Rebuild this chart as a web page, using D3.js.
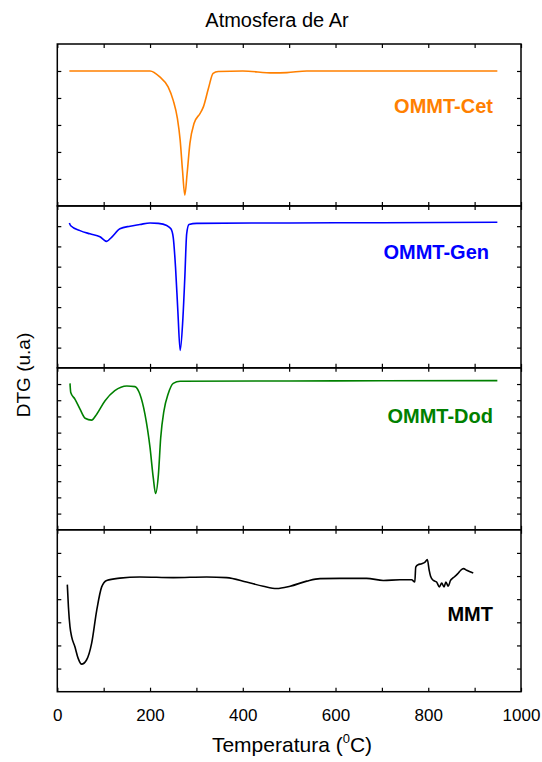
<!DOCTYPE html>
<html><head><meta charset="utf-8">
<script src="https://cdn.jsdelivr.net/npm/d3@7"></script>
<style>body{margin:0;background:#fff}svg{display:block}text{font-family:"Liberation Sans",Arial,sans-serif}</style>
</head><body>
<svg id="c" width="542" height="762"></svg>
<script>
// ---- data (temperature in °C, DTG in arbitrary units) ----
const seriesNames = ["OMMT-Cet", "OMMT-Gen", "OMMT-Dod", "MMT"];
const seriesColors = ["#ff8000", "#0000ff", "#008000", "#000000"];
const xTicks = [0,100,200,300,400,500,600,700,800,900,1000];
const xTickLabels = [0,200,400,600,800,1000];

const cetT = [26,200,221,239,250,259,265,270,275,280,286,295,308,315,326,336,347,400,465,495,538,700,949];
const cetV = [0,0,-0.22,-0.59,-1.09,-1.76,-2.57,-3.68,-4.6,-3.79,-2.68,-1.94,-1.57,-1.33,-0.64,-0.09,-0.02,0,-0.07,-0.06,0,0,0];

const genT = [26,29,49,70.5,92,106.5,117,135,157,178,200,218,236,245,250,255,260,265,270.5,275,279,284,300.6,500,700,949];
const genV = [0.16,0.02,-0.22,-0.38,-0.52,-0.75,-0.55,-0.13,0,0.08,0.16,0.14,0.03,-0.13,-0.55,-2.04,-4.2,-6.14,-4.7,-2.54,-0.38,0.08,0.14,0.16,0.17,0.19];

const dodT = [27.4,29,38,49,60,74,85,103,124,150,167.5,178,189,200,207,212,218,223,230,239,250,265,500,700,949];
const dodV = [0.04,-0.52,-0.93,-1.55,-2.11,-2.23,-1.86,-1.03,-0.41,-0.12,-0.16,-0.62,-1.86,-3.93,-5.8,-6.76,-5.6,-3.32,-1.65,-0.62,0.04,0.17,0.19,0.2,0.21];

const mmtT = [21.6,24,27.4,31,38,45,52.5,63,74,85,95.7,106.5,135,178,250,322,365,408,444,473,502,538,566.5,609.6,667,703,739,764,771,773,778,786,793,798,802,805,811,818,824,829,834,838,843,848,854,860,865,870,876,883,897];
const mmtV = [-1.37,-2.34,-3.2,-3.63,-4.06,-4.56,-4.81,-4.63,-3.91,-2.48,-1.47,-1.19,-1.09,-1.04,-1.07,-1.04,-1.07,-1.26,-1.44,-1.54,-1.44,-1.22,-1.11,-1.1,-1.1,-1.19,-1.16,-1.16,-1.26,-0.61,-0.51,-0.47,-0.4,-0.29,-0.75,-1.01,-1.19,-1.26,-1.47,-1.3,-1.47,-1.26,-1.44,-1.19,-1.07,-0.97,-0.87,-0.75,-0.68,-0.75,-0.87];

const panelDomains = [[-5,1],[-7,1],[-9,1],[-6,1]];
const seriesT = [cetT, genT, dodT, mmtT];
const seriesV = [cetV, genV, dodV, mmtV];

// ---- layout ----
const svg = d3.select("#c");
const pLeft = 57.3, pRight = 521, pTop0 = 44, pBottom = 691.7;
const panelH = (pBottom - pTop0) / 4;
const x = d3.scaleLinear().domain([0,1000]).range([pLeft, pRight]);
const tickLen = 4;

svg.append("text").attr("x", 277).attr("y", 26.5).attr("text-anchor","middle")
  .attr("font-size", 20).text("Atmosfera de Ar");

seriesNames.forEach((name, i) => {
  const pTop = pTop0 + i*panelH, pBot = pTop + panelH;
  const dom = panelDomains[i];
  const y = d3.scaleLinear().domain(dom).range([pBot, pTop]);
  const g = svg.append("g");
  const yt = d3.range(dom[0]+1, dom[1]);
  g.append("g").attr("transform", `translate(${pLeft},0)`)
    .call(d3.axisRight(y).tickValues(yt).tickSize(tickLen).tickFormat(""))
    .call(a => a.select(".domain").remove());
  g.append("g").attr("transform", `translate(${pRight},0)`)
    .call(d3.axisLeft(y).tickValues(yt).tickSize(tickLen).tickFormat(""))
    .call(a => a.select(".domain").remove());
  g.append("g").attr("transform", `translate(0,${pTop})`)
    .call(d3.axisBottom(x).tickValues(xTicks).tickSize(tickLen).tickFormat(""))
    .call(a => a.select(".domain").remove());
  g.append("g").attr("transform", `translate(0,${pBot})`)
    .call(d3.axisTop(x).tickValues(xTicks).tickSize(tickLen).tickFormat(""))
    .call(a => a.select(".domain").remove());
  g.selectAll(".tick line").attr("stroke","#000").attr("stroke-width",1.2);
  g.append("rect").attr("x", pLeft).attr("y", pTop).attr("width", pRight-pLeft).attr("height", panelH)
    .attr("fill","none").attr("stroke","#000").attr("stroke-width",1.5);
  const pts = seriesT[i].map((t,k) => [t, seriesV[i][k]]);
  const line = d3.line().x(d => x(d[0])).y(d => y(d[1])).curve(d3.curveMonotoneX);
  g.append("path").attr("d", line(pts)).attr("fill","none")
    .attr("stroke", seriesColors[i]).attr("stroke-width", 1.6).attr("stroke-linejoin","round");
});

const labelPos = [[493,113],[489,259],[493,423],[493,621]];
seriesNames.forEach((n,i) => {
  svg.append("text").attr("x", labelPos[i][0]).attr("y", labelPos[i][1])
    .attr("text-anchor","end").attr("font-size", 20).attr("font-weight","bold")
    .attr("fill", seriesColors[i]).text(n);
});

const xa = svg.append("g").attr("transform", `translate(0,${pBottom})`)
  .call(d3.axisBottom(x).tickValues(xTickLabels).tickSize(0).tickPadding(17).tickFormat(d3.format("d")));
xa.select(".domain").remove();
xa.selectAll("text").attr("font-size", 17).attr("font-family", '"Liberation Sans",Arial,sans-serif').attr("fill","#000");

const xt = svg.append("text").attr("x", 292).attr("y", 752).attr("text-anchor","middle").attr("font-size", 21);
xt.append("tspan").text("Temperatura (");
xt.append("tspan").attr("font-size", 13).attr("dy", -9).text("0");
xt.append("tspan").attr("dy", 9).text("C)");

svg.append("text").attr("transform", "translate(30,375) rotate(-90)").attr("text-anchor","middle")
  .attr("font-size", 19).text("DTG (u.a)");
</script>
</body></html>
